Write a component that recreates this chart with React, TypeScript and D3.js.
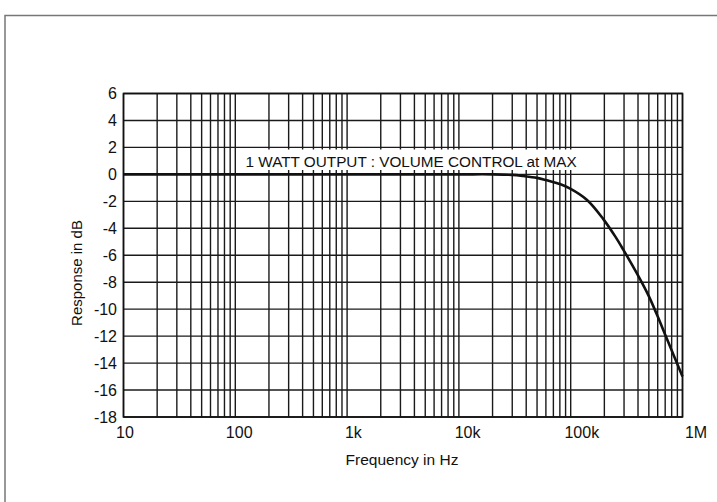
import React from "react";
import * as d3 from "d3";

const freqs = [10, 100, 1000, 10000, 20000, 30000, 37600, 50000, 61000, 80000, 99000, 140000, 195000, 250000, 296000, 391000, 497000, 590000, 725000, 1000000];
const response = [0, 0, 0, 0, 0, -0.04, -0.12, -0.26, -0.44, -0.72, -1.06, -1.9, -3.3, -4.6, -5.6, -7.35, -9.0, -10.4, -12.2, -15.0];

const yTicks = [6, 4, 2, 0, -2, -4, -6, -8, -10, -12, -14, -16, -18];
const xTickValues = [10, 100, 1000, 10000, 100000, 1000000];
const xTickLabels = ["10", "100", "1k", "10k", "100k", "1M"];
const annotation = "1 WATT OUTPUT : VOLUME CONTROL at MAX";

export default function App() {
  const W = 717, H = 502;
  const left = 123.5, right = 682.5, top = 93.5, bottom = 417;
  const x = d3.scaleLog().domain([10, 1e6]).range([left, right]);
  const xl = d3.scaleLog().domain([10, 1e6]).range([125, 696]);
  const y = d3.scaleLinear().domain([6, -18]).range([top, bottom]);

  const minor: number[] = [];
  for (let d = 10; d < 1e6; d *= 10) {
    for (let m = 1; m <= 9; m++) minor.push(d * m);
  }
  minor.push(1e6);

  const line = d3
    .line<number>()
    .x((_, i) => x(freqs[i]))
    .y((v) => y(v))
    .curve(d3.curveCatmullRom.alpha(0.5));

  const font = "'Liberation Sans', Arial, Helvetica, sans-serif";

  return (
    <svg width={W} height={H} style={{ position: "absolute", left: 0, top: 0 }} fontFamily={font}>
      <rect x={0} y={0} width={W} height={H} fill="#fff" />
      <rect x={5} y={15.5} width={W + 20} height={H + 20} fill="none" stroke="#777" strokeWidth={1.5} />
      {minor.map((f, i) => (
        <line key={"v" + i} x1={x(f)} x2={x(f)} y1={top} y2={bottom} stroke="#1a1a1a" strokeWidth={1.4} />
      ))}
      {yTicks.map((t) => (
        <line key={"h" + t} x1={left} x2={right} y1={y(t)} y2={y(t)} stroke="#1a1a1a" strokeWidth={1.4} />
      ))}
      <rect x={left} y={top} width={right - left} height={bottom - top} fill="none" stroke="#111" strokeWidth={1.6} />
      <rect x={242} y={149.5} width={346} height={20.5} fill="#fff" />
      <text x={245.5} y={166.5} fontSize={15.3} fill="#111">{annotation}</text>
      <path d={line(response) || ""} fill="none" stroke="#111" strokeWidth={2.6} />
      {yTicks.map((t) => (
        <text key={"yl" + t} x={117} y={y(t)} dy="0.36em" textAnchor="end" fontSize={16} fill="#111">
          {t < 0 ? "-" + Math.abs(t) : String(t)}
        </text>
      ))}
      {xTickValues.map((v, i) => (
        <text key={"xl" + v} x={xl(v)} y={437.5} textAnchor="middle" fontSize={16} fill="#111">
          {xTickLabels[i]}
        </text>
      ))}
      <text x={402} y={465} textAnchor="middle" fontSize={15.5} fill="#111">Frequency in Hz</text>
      <text transform={`translate(${82},${273}) rotate(-90)`} textAnchor="middle" fontSize={15} fill="#111">
        Response in dB
      </text>
    </svg>
  );
}
